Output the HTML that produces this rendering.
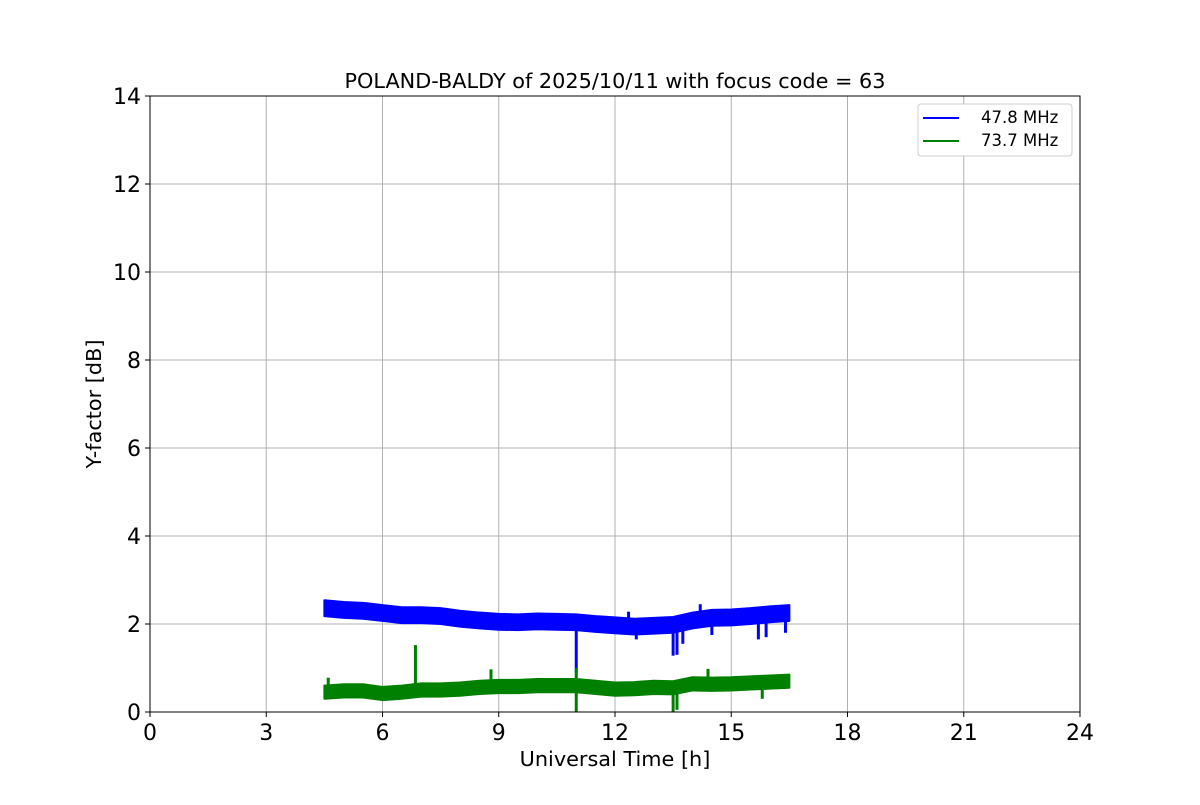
<!DOCTYPE html>
<html><head><meta charset="utf-8"><style>
body{margin:0;background:#fff}
svg text{font-family:"DejaVu Sans","Liberation Sans",sans-serif}
</style></head><body>
<svg id="chart" width="1200" height="800" viewBox="0 0 1200 800">
<rect width="1200" height="800" fill="#fff"/>
<g id="grid"></g><g id="series"></g><g id="axes"></g>
<text x="615" y="88" text-anchor="middle" font-size="20.8">POLAND-BALDY of 2025/10/11 with focus code = 63</text>
<text x="615" y="766" text-anchor="middle" font-size="20.8">Universal Time [h]</text>
<text transform="translate(101,404) rotate(-90)" text-anchor="middle" font-size="20.8">Y-factor [dB]</text>
<g>
<rect x="918" y="104" width="154" height="52" rx="3" fill="#fff" stroke="#ccc"/>
<line x1="923" y1="118" x2="959" y2="118" stroke="#0000ff" stroke-width="2"/>
<text x="981" y="123" font-size="16.5">47.8 MHz</text>
<line x1="923" y1="141" x2="959" y2="141" stroke="#008000" stroke-width="2"/>
<text x="981" y="146" font-size="16.5">73.7 MHz</text>
</g>
</svg>
<script>
const times=[4.5,5,5.5,6,6.5,7,7.5,8,8.5,9,9.5,10,10.5,11,11.5,12,12.5,13,13.5,14,14.5,15,15.5,16,16.5];
const blueCenter=[2.36,2.32,2.3,2.25,2.2,2.2,2.18,2.12,2.08,2.05,2.04,2.06,2.05,2.04,2.0,1.97,1.94,1.96,1.98,2.08,2.14,2.15,2.18,2.22,2.25];
const greenCenter=[0.45,0.48,0.48,0.42,0.45,0.5,0.5,0.52,0.56,0.58,0.58,0.6,0.6,0.6,0.56,0.52,0.53,0.56,0.55,0.64,0.63,0.64,0.66,0.68,0.7];
const blueHalf=0.18, greenHalf=0.15;
const blueSpikeT=[11.0,12.55,13.5,13.6,13.75,14.5,15.7,15.9,16.4,12.35,14.2];
const blueSpikeV=[0.9,1.65,1.28,1.3,1.55,1.75,1.65,1.7,1.8,2.28,2.45];
const greenSpikeT=[4.6,6.85,8.8,11.0,14.4,11.0,13.5,13.6,15.8];
const greenSpikeV=[0.78,1.52,0.97,1.0,0.98,0.0,0.0,0.05,0.3];
const xTicks=[0,3,6,9,12,15,18,21,24];
const yTicks=[0,2,4,6,8,10,12,14];
const X0=150,X1=1080,Y0=712,Y1=96;
const sx=t=>X0+(X1-X0)*t/24, sy=v=>Y0-(Y0-Y1)*v/14;
const NS="http://www.w3.org/2000/svg";
function mk(tag,attrs,parent){const e=document.createElementNS(NS,tag);for(const k in attrs)e.setAttribute(k,attrs[k]);parent.appendChild(e);return e;}
const grid=document.getElementById('grid'),axes=document.getElementById('axes'),ser=document.getElementById('series');
xTicks.forEach(t=>{
 const g=mk('line',{x1:sx(t),x2:sx(t),y1:Y1,y2:Y0,stroke:'#b0b0b0','stroke-width':1},grid);
 
 
 mk('line',{x1:sx(t),x2:sx(t),y1:Y0,y2:Y0+5,stroke:'#000'},axes);
 const tx=mk('text',{x:sx(t),y:Y0+28,'text-anchor':'middle','font-size':22},axes);tx.textContent=t;
 
 
});
yTicks.forEach(v=>{
 const g=mk('line',{x1:X0,x2:X1,y1:sy(v),y2:sy(v),stroke:'#b0b0b0','stroke-width':1},grid);
 
 
 mk('line',{x1:X0-5,x2:X0,y1:sy(v),y2:sy(v),stroke:'#000'},axes);
 const tx=mk('text',{x:X0-9,y:sy(v)+8,'text-anchor':'end','font-size':22},axes);tx.textContent=v;
 
 
});
const fr=mk('rect',{x:X0,y:Y1,width:X1-X0,height:Y0-Y1,fill:'none',stroke:'#000','stroke-width':1},axes);


function band(center,half,color,name,spT,spV){
 const up=times.map((t,i)=>sx(t)+','+sy(center[i]+half)).join(' ');
 const lo=times.slice().reverse().map((t,j)=>{const i=times.length-1-j;return sx(t)+','+sy(center[i]-half);}).join(' ');
 const p=mk('polygon',{points:up+' '+lo,fill:color,stroke:color,'stroke-width':2,'stroke-linejoin':'round'},ser);
 
 
 spT.forEach((t,k)=>{
  let i=0;while(i<times.length-1&&times[i+1]<=t)i++;
  const f=i<times.length-1?(t-times[i])/(times[i+1]-times[i]):0;
  const c=center[i]+(i<times.length-1?(center[i+1]-center[i])*f:0);
  const l=mk('line',{x1:sx(t),x2:sx(t),y1:sy(c),y2:sy(spV[k]),stroke:color,'stroke-width':3},ser);
  
  
 });
}
band(blueCenter,blueHalf,'#0000ff','series-47-8',blueSpikeT,blueSpikeV);
band(greenCenter,greenHalf,'#008000','series-73-7',greenSpikeT,greenSpikeV);
</script>
</body></html>
